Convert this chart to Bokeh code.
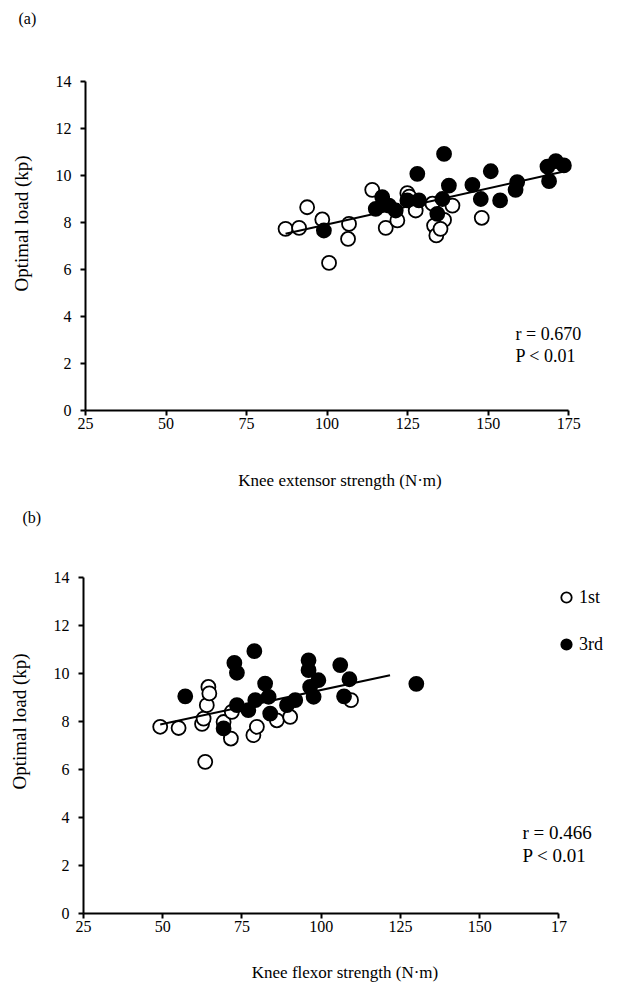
import numpy as np
from bokeh.plotting import figure
from bokeh.models import Label, Legend, LegendItem, Range1d, FixedTicker
from bokeh.layouts import column, row
from bokeh.embed import file_html
from bokeh.resources import INLINE

# ---------------- data ----------------
# (a) knee extensor strength (N·m) vs optimal load (kp)
ext_1st_x = [87.1, 91.3, 93.8, 98.5, 106.8, 106.5, 100.6, 114.0, 118.2, 121.8,
             124.9, 125.5, 127.5, 132.7, 138.9, 136.3, 133.2, 133.9, 135.2, 148.0]
ext_1st_y = [7.73, 7.77, 8.65, 8.13, 7.94, 7.30, 6.28, 9.39, 7.77, 8.09,
             9.25, 9.10, 8.51, 8.80, 8.72, 8.11, 7.87, 7.45, 7.73, 8.20]
ext_3rd_x = [99.0, 115.1, 117.1, 119.2, 121.3, 124.9, 128.5, 128.0, 134.2, 135.8,
             137.8, 136.3, 145.1, 147.7, 150.8, 153.7, 158.5, 159.0, 168.4, 168.9,
             171.0, 173.5]
ext_3rd_y = [7.66, 8.58, 9.08, 8.72, 8.51, 8.94, 8.94, 10.07, 8.37, 9.00,
             9.57, 10.92, 9.60, 9.00, 10.18, 8.94, 9.39, 9.72, 10.38, 9.76,
             10.61, 10.43]
# regression line
ext_fit_x = [87.1, 173.5]
ext_fit_y = [7.52, 10.17]

# (b) knee flexor strength (N·m) vs optimal load (kp)
flx_1st_x = [49.2, 55.0, 62.4, 62.9, 63.9, 64.4, 64.7, 63.4, 69.2, 71.5,
             71.8, 78.6, 79.7, 86.0, 90.2, 109.4]
flx_1st_y = [7.78, 7.73, 7.90, 8.12, 8.68, 9.44, 9.17, 6.32, 7.98, 7.29,
             8.40, 7.43, 7.78, 8.05, 8.19, 8.89]
flx_3rd_x = [57.1, 69.2, 72.6, 73.4, 73.4, 78.9, 77.0, 79.2, 82.3, 83.4,
             83.9, 89.2, 91.8, 96.0, 96.0, 99.1, 96.5, 97.6, 106.0, 108.9,
             107.2, 130.0]
flx_3rd_y = [9.05, 7.71, 10.44, 10.03, 8.68, 10.93, 8.47, 8.89, 9.58, 9.03,
             8.33, 8.68, 8.89, 10.55, 10.14, 9.72, 9.44, 9.03, 10.35, 9.76,
             9.05, 9.57]
flx_fit_x = [49.2, 121.7]
flx_fit_y = [7.875, 9.93]

x_ticks = [25, 50, 75, 100, 125, 150, 175]
y_ticks = [0, 2, 4, 6, 8, 10, 12, 14]

FONT = "Liberation Serif"


def make_panel(x1, y1, x3, y3, fx, fy, xmax, fw, fh, bl, br, bt, bb, xlabel,
               tick_std, title_std):
    p = figure(output_backend="svg", toolbar_location=None,
               frame_width=fw, frame_height=fh, frame_align=False,
               min_border_left=bl, min_border_right=br,
               min_border_top=bt, min_border_bottom=bb,
               x_range=Range1d(25, xmax), y_range=Range1d(0, 14))
    p.outline_line_color = None
    p.xgrid.visible = False
    p.ygrid.visible = False
    p.background_fill_color = "white"
    p.border_fill_color = "white"

    for ax in (p.xaxis[0], p.yaxis[0]):
        ax.axis_line_width = 2
        ax.axis_line_color = "black"
        ax.major_tick_line_width = 2
        ax.major_tick_line_color = "black"
        ax.major_tick_out = 5
        ax.major_tick_in = 0
        ax.minor_tick_line_color = None
        ax.major_label_text_font = FONT
        ax.major_label_text_font_size = "16px"
        ax.major_label_text_color = "black"
    p.xaxis[0].ticker = FixedTicker(ticks=x_ticks)
    p.xaxis[0].bounds = (25, 175)
    p.yaxis[0].ticker = FixedTicker(ticks=y_ticks)
    p.xaxis[0].major_label_standoff = tick_std
    p.yaxis[0].major_label_standoff = 9
    p.xaxis[0].axis_label = xlabel
    p.xaxis[0].axis_label_text_font = FONT
    p.xaxis[0].axis_label_text_font_size = "17px"
    p.xaxis[0].axis_label_text_font_style = "normal"
    p.xaxis[0].axis_label_text_color = "black"
    p.xaxis[0].axis_label_standoff = title_std

    r1 = p.scatter(x1, y1, size=14, marker="circle", fill_color="white",
                   line_color="black", line_width=1.8)
    p.line(fx, fy, line_color="black", line_width=2)
    r3 = p.scatter(x3, y3, size=14, marker="circle", fill_color="black",
                   line_color="black", line_width=1.8)
    return p, r1, r3


def add_text(p, text, x, y, size, align="left", baseline="alphabetic", angle=0.0):
    p.add_layout(Label(x=x, y=y, x_units="screen", y_units="screen", text=text,
                       text_font=FONT, text_font_size=size, text_color="black",
                       text_align=align, text_baseline=baseline, angle=angle))


def make_strip(w, h):
    s = figure(output_backend="svg", toolbar_location=None, title=None,
               width=w, height=h, min_border=0, frame_align=False,
               min_border_left=0, min_border_right=0,
               min_border_top=0, min_border_bottom=0,
               x_range=Range1d(0, w), y_range=Range1d(0, h),
               x_axis_location=None, y_axis_location=None)
    s.outline_line_color = None
    s.xgrid.visible = False
    s.ygrid.visible = False
    s.border_fill_color = "white"
    s.background_fill_color = "white"
    return s


STRIP_W = 45

# ---------------- panel (a) ----------------
# canvas rows: 0..500; frame x 85..(25..183), y 81..410
pa, ra1, ra3 = make_panel(ext_1st_x, ext_1st_y, ext_3rd_x, ext_3rd_y,
                          ext_fit_x, ext_fit_y, 183, 509, 329,
                          85 - STRIP_W, 43, 81, 90,
                          "Knee extensor strength (N\u00b7m)", 2, 39)
add_text(pa, "r = 0.670", 430, 77, "18px")
add_text(pa, "P < 0.01", 430, 55, "18px")
sa = make_strip(STRIP_W, 500)
add_text(sa, "(a)", 18, 500 - 18, "16px", baseline="middle")
add_text(sa, "Optimal load (kp)", 21, 500 - 223, "19px", align="center",
         baseline="middle", angle=np.pi / 2)

# ---------------- panel (b) ----------------
# canvas rows: 500..988; frame x 83..(25..190), y 577..913
pb, rb1, rb3 = make_panel(flx_1st_x, flx_1st_y, flx_3rd_x, flx_3rd_y,
                          flx_fit_x, flx_fit_y, 190, 523, 336,
                          83 - STRIP_W, 31, 77, 75,
                          "Knee flexor strength (N\u00b7m)", 2, 28)
pb.xaxis[0].major_label_overrides = {175: "17"}
add_text(pb, "r = 0.466", 439, 81, "19px")
add_text(pb, "P < 0.01", 439, 58, "19px")
sb = make_strip(STRIP_W, 488)
add_text(sb, "(b)", 22, 488 - 16.5, "16px", baseline="middle")
add_text(sb, "Optimal load (kp)", 19, 488 - 221, "19px", align="center",
         baseline="middle", angle=np.pi / 2)

legend = Legend(items=[LegendItem(label="1st", renderers=[rb1]),
                       LegendItem(label="3rd", renderers=[rb3])],
                location=(470, 256), glyph_width=26, glyph_height=26,
                label_standoff=0, spacing=21, padding=0, margin=0,
                border_line_color=None, background_fill_alpha=0,
                label_text_font=FONT, label_text_font_size="18px",
                label_text_color="black", label_height=20)
pb.add_layout(legend)

layout = column(row(sa, pa, spacing=0), row(sb, pb, spacing=0), spacing=0)
open("out.html", "w").write(file_html(layout, INLINE))
